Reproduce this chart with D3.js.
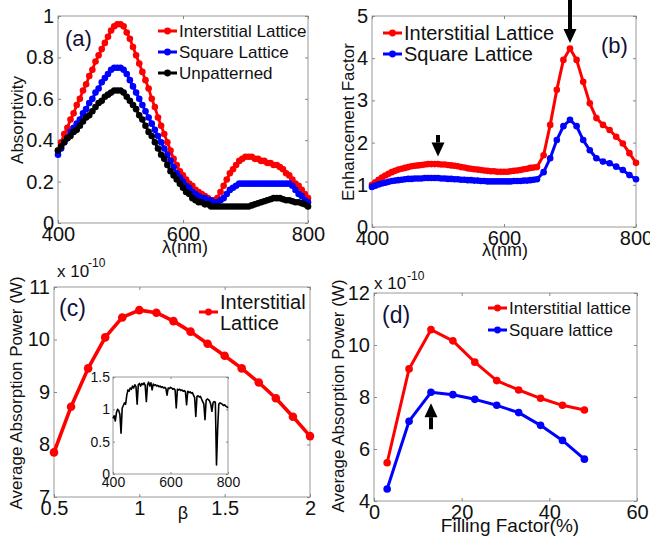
<!DOCTYPE html>
<html>
<head>
<meta charset="utf-8">
<script src="https://cdn.jsdelivr.net/npm/d3@7"></script>
<style>
body { margin: 0; background: #fff; }
svg { display: block; }
</style>
</head>
<body>
<svg id="fig" width="650" height="538"></svg>
<script>
// ---- (a) absorptivity vs wavelength ----
var wlA = [400,405,410,415,420,425,430,435,440,445,450,455,460,465,470,475,480,485,490,495,
	500,505,510,515,520,525,530,535,540,545,550,555,560,565,570,575,580,585,590,595,
	600,605,610,615,620,625,630,635,640,645,650,655,660,665,670,675,680,685,690,695,
	700,705,710,715,720,725,730,735,740,745,750,755,760,765,770,775,780,785,790,795,800];
var absInter = [.35,.39,.43,.46,.50,.53,.57,.60,.64,.67,.71,.74,.78,.81,.84,.87,.90,.93,.95,.96,
	.96,.95,.92,.89,.85,.81,.77,.73,.69,.65,.60,.56,.51,.47,.43,.39,.35,.31,.28,.25,
	.23,.21,.19,.18,.16,.15,.14,.13,.12,.11,.11,.12,.15,.18,.21,.24,.26,.28,.30,.31,
	.32,.32,.32,.31,.31,.30,.30,.29,.29,.28,.28,.27,.26,.24,.23,.21,.19,.18,.16,.14,.12];
var absSquare = [.33,.36,.39,.41,.44,.46,.48,.50,.53,.55,.58,.60,.63,.65,.68,.70,.72,.74,.75,.75,
	.75,.74,.72,.69,.66,.63,.60,.57,.54,.51,.48,.45,.42,.39,.36,.33,.30,.27,.24,.22,
	.20,.18,.17,.15,.14,.13,.12,.12,.11,.11,.10,.10,.11,.12,.14,.16,.17,.18,.19,.19,
	.19,.19,.19,.19,.19,.19,.19,.19,.19,.19,.19,.19,.19,.19,.19,.18,.16,.14,.13,.11,.10];
var absFlat = [.35,.37,.39,.41,.42,.44,.45,.47,.49,.51,.52,.54,.56,.58,.59,.61,.62,.63,.64,.64,
	.64,.63,.61,.59,.57,.55,.52,.50,.47,.44,.42,.39,.36,.33,.31,.28,.25,.23,.21,.19,
	.17,.15,.14,.12,.11,.10,.10,.09,.09,.08,.08,.08,.08,.08,.08,.08,.08,.08,.08,.08,
	.08,.08,.085,.09,.095,.10,.105,.11,.115,.12,.12,.12,.115,.11,.11,.105,.10,.10,.095,.09,.08];

// ---- (b) enhancement factor ----
var wlB = [400,405,410,415,420,425,430,435,440,445,450,455,460,465,470,475,480,485,490,495,
	500,505,510,515,520,525,530,535,540,545,550,555,560,565,570,575,580,585,590,595,
	600,605,610,615,620,625,630,635,640,645,650,
	660,670,680,690,700,710,720,730,740,750,760,770,780,790,800];
var enhInter = [1.00,1.06,1.12,1.17,1.22,1.26,1.30,1.33,1.36,1.38,1.40,1.42,1.44,1.45,1.46,1.47,1.48,1.49,1.49,1.49,
	1.49,1.48,1.48,1.47,1.46,1.45,1.44,1.42,1.41,1.39,1.38,1.37,1.36,1.35,1.34,1.33,1.32,1.32,1.31,1.31,
	1.31,1.31,1.32,1.33,1.34,1.35,1.37,1.38,1.40,1.41,1.42,
	1.70,2.42,3.25,3.96,4.23,3.96,3.44,2.93,2.58,2.42,2.30,2.14,1.98,1.75,1.52];
var enhSquare = [0.95,0.98,1.01,1.03,1.05,1.07,1.09,1.10,1.11,1.12,1.13,1.14,1.14,1.15,1.15,1.15,1.16,1.16,1.16,1.16,
	1.16,1.15,1.15,1.14,1.14,1.13,1.13,1.12,1.12,1.11,1.11,1.10,1.10,1.09,1.09,1.08,1.08,1.08,1.08,1.08,
	1.08,1.08,1.08,1.09,1.09,1.09,1.10,1.10,1.11,1.12,1.13,
	1.30,1.63,2.06,2.39,2.54,2.39,2.06,1.82,1.63,1.55,1.51,1.43,1.35,1.23,1.13];

// ---- (c) power vs beta (x 1e-10 W) ----
var beta = [0.5,0.6,0.7,0.8,0.9,1.0,1.1,1.2,1.3,1.4,1.5,1.6,1.7,1.8,1.9,2.0];
var powerBeta = [7.85,8.72,9.45,10.04,10.42,10.56,10.51,10.35,10.15,9.92,9.69,9.45,9.18,8.88,8.53,8.16];

// inset: solar spectrum
var specWl = [400,404,408,412,416,420,424,428,432,436,440,444,448,452,456,460,464,468,472,476,
	480,484,488,492,496,500,504,508,512,516,520,524,528,532,536,540,544,548,552,556,
	560,564,568,572,576,580,584,588,592,596,600,604,608,612,616,620,624,628,632,636,
	640,644,648,652,656,660,664,668,672,676,680,684,688,692,696,700,704,708,712,716,
	720,724,728,732,736,740,744,748,752,756,760,764,768,772,776,780,784,788,792,796,800];
var specVal = [0.86,0.90,0.82,0.95,1.00,0.98,0.92,0.63,1.02,1.06,1.10,1.08,1.22,1.30,1.28,1.33,1.31,1.36,1.33,1.38,
	1.35,1.08,1.38,1.40,1.36,1.40,1.38,1.41,1.37,1.12,1.38,1.42,1.36,1.41,1.30,1.39,1.37,1.38,1.36,1.37,
	1.35,1.36,1.34,1.35,1.33,1.34,1.32,1.22,1.33,1.32,1.34,1.33,1.31,1.32,1.30,1.02,1.31,1.30,1.31,1.29,
	1.30,1.28,1.29,1.27,1.07,1.28,1.26,1.27,1.25,1.26,1.22,1.18,0.89,1.20,1.21,1.19,1.20,1.16,1.12,1.08,
	0.84,1.14,1.16,1.15,1.13,1.08,0.97,1.10,1.12,1.11,0.14,0.70,1.08,1.10,1.09,1.08,1.06,1.07,1.05,1.04,1.02];

// ---- (d) power vs filling factor (x 1e-10 W) ----
var fillFactor = [3,8,13,18,23,28,33,38,43,48];
var powerInter = [5.47,9.08,10.59,10.16,9.34,8.63,8.27,7.95,7.68,7.50];
var powerSquare = [4.46,7.07,8.18,8.09,7.91,7.68,7.40,6.91,6.33,5.61];

var FONT = "Arial, 'Liberation Sans', sans-serif";
var svg = d3.select("#fig");

function zip(xs, ys) {
	return xs.map(function(v, i) { return [v, ys[i]]; });
}

function makePanel(p) {
	var x = d3.scaleLinear().domain(p.xDomain).range([p.left, p.right]);
	var y = d3.scaleLinear().domain(p.yDomain).range([p.bottom, p.top]);
	var g = svg.append("g");
	var fs = p.tickFont || 20;
	var tl = p.tickLen || 3;

	g.append("rect")
		.attr("x", p.left).attr("y", p.top)
		.attr("width", p.right - p.left).attr("height", p.bottom - p.top)
		.attr("fill", "#fff").attr("stroke", "#999").attr("stroke-width", 1);

	// MATLAB style: inward ticks on all four sides, labels only bottom/left
	var axes = [
		[d3.axisBottom(x).tickValues(p.xTicks), "translate(0," + p.bottom + ")", true],
		[d3.axisLeft(y).tickValues(p.yTicks), "translate(" + p.left + ",0)", true],
		[d3.axisTop(x).tickValues(p.xTicks), "translate(0," + p.top + ")", false],
		[d3.axisRight(y).tickValues(p.yTicks), "translate(" + p.right + ",0)", false]
	];
	axes.forEach(function(a) {
		var ax = a[0].tickSize(-tl).tickSizeOuter(0).tickPadding(p.tickPad || 4)
			.tickFormat(a[2] ? d3.format("") : "");
		var sel = g.append("g").attr("transform", a[1]).call(ax)
			.attr("font-family", FONT).attr("font-size", fs);
		sel.select(".domain").remove();
		sel.selectAll("line").attr("stroke", "#888");
		sel.selectAll("text").attr("fill", "#111");
	});
	return {x: x, y: y, g: g};
}

function drawSeries(P, xs, ys, color, r, w) {
	var pts = zip(xs, ys);
	var line = d3.line().x(function(d) { return P.x(d[0]); }).y(function(d) { return P.y(d[1]); });
	P.g.append("path").datum(pts)
		.attr("d", line).attr("fill", "none")
		.attr("stroke", color).attr("stroke-width", w).attr("stroke-linejoin", "round");
	if (r > 0) {
		P.g.selectAll(null).data(pts).enter().append("circle")
			.attr("cx", function(d) { return P.x(d[0]); })
			.attr("cy", function(d) { return P.y(d[1]); })
			.attr("r", r).attr("fill", color);
	}
}

// items: [lines of text, colour]; textShift moves the text block up/down
function legend(items, x0, y0, dy, fs, textShift) {
	textShift = textShift || 0;
	items.forEach(function(it, i) {
		var yy = y0 + i * dy;
		svg.append("line").attr("x1", x0).attr("x2", x0 + 19).attr("y1", yy).attr("y2", yy)
			.attr("stroke", it[1]).attr("stroke-width", 3);
		svg.append("circle").attr("cx", x0 + 9.5).attr("cy", yy).attr("r", 3.4).attr("fill", it[1]);
		it[0].forEach(function(t, j) {
			svg.append("text").attr("x", x0 + 21).attr("y", yy + textShift + j * 21).attr("dy", "0.36em")
				.attr("font-family", FONT).attr("font-size", fs).attr("fill", "#111").text(t);
		});
	});
}

function label(txt, x, y, fs, opts) {
	opts = opts || {};
	var t = svg.append("text").attr("font-family", FONT).attr("font-size", fs)
		.attr("fill", opts.fill || "#111").attr("text-anchor", opts.anchor || "start").text(txt);
	if (opts.rotate) {
		t.attr("transform", "translate(" + x + "," + y + ") rotate(-90)");
	} else {
		t.attr("x", x).attr("y", y);
	}
	return t;
}

// arrow: points to yTip from yTail (data coords)
function arrow(P, xv, yTip, yTail) {
	var xp = P.x(xv), ty = P.y(yTip), ay = P.y(yTail);
	var dir = ay < ty ? 1 : -1; // 1 = pointing down
	var head = 14, hw = 6.5;
	var base = ty - dir * head;
	svg.append("line").attr("x1", xp).attr("x2", xp).attr("y1", ay).attr("y2", base)
		.attr("stroke", "#000").attr("stroke-width", 4);
	svg.append("path")
		.attr("d", "M" + (xp - hw) + "," + base + "L" + (xp + hw) + "," + base + "L" + xp + "," + ty + "Z")
		.attr("fill", "#000");
}

// ---------- panel (a) ----------
var PA = makePanel({left: 58, right: 308, top: 16, bottom: 223,
	xDomain: [400, 800], yDomain: [0, 1],
	xTicks: [400, 600, 800], yTicks: [0, 0.2, 0.4, 0.6, 0.8, 1]});
drawSeries(PA, wlA, absInter, "#ff0000", 3.3, 2.8);
drawSeries(PA, wlA, absSquare, "#0000ff", 3.3, 2.8);
drawSeries(PA, wlA, absFlat, "#000000", 3.3, 2.8);
legend([[["Interstitial Lattice"], "#ff0000"], [["Square Lattice"], "#0000ff"], [["Unpatterned"], "#000"]],
	158, 31, 21, 17);
label("(a)", 65, 46, 22, {fill: "#10103a"});
label("Absorptivity", 23, 120, 17, {rotate: true, anchor: "middle"});
label("λ(nm)", 185, 253, 18, {anchor: "middle"});

// ---------- panel (b) ----------
var PB = makePanel({left: 372, right: 636, top: 16, bottom: 227,
	xDomain: [400, 800], yDomain: [0, 5],
	xTicks: [400, 600, 800], yTicks: [0, 1, 2, 3, 4, 5]});
drawSeries(PB, wlB, enhInter, "#ff0000", 3.3, 3);
drawSeries(PB, wlB, enhSquare, "#0000ff", 3.3, 3);
legend([[["Interstitial Lattice"], "#ff0000"], [["Square Lattice"], "#0000ff"]], 383, 33, 21, 20);
label("(b)", 601, 53, 22, {fill: "#10103a"});
label("Enhancement Factor", 354, 122, 17, {rotate: true, anchor: "middle"});
label("λ(nm)", 505, 256, 18, {anchor: "middle"});
arrow(PB, 500, 1.67, 2.18);
arrow(PB, 700, 4.36, 5.4);

// ---------- panel (c) ----------
var PC = makePanel({left: 54, right: 310, top: 287, bottom: 497,
	xDomain: [0.5, 2], yDomain: [7, 11],
	xTicks: [0.5, 1, 1.5, 2], yTicks: [7, 8, 9, 10, 11]});
drawSeries(PC, beta, powerBeta, "#ff0000", 4.3, 3.6);
legend([[["Interstitial", "Lattice"], "#ff0000"]], 199, 312, 21, 20, -10);
label("(c)", 59, 316, 23, {fill: "#10103a"});
label("Average Absorption Power (W)", 22, 393, 17, {rotate: true, anchor: "middle"});
label("β", 183, 519, 18, {anchor: "middle"});
label("x 10", 57, 277, 17);
label("-10", 88, 267, 12);

// inset
var PI = makePanel({left: 113, right: 228, top: 377, bottom: 474,
	xDomain: [400, 800], yDomain: [0, 1.5],
	xTicks: [400, 600, 800], yTicks: [0, 0.5, 1, 1.5], tickFont: 14, tickLen: 2, tickPad: 3});
drawSeries(PI, specWl, specVal, "#000", 0, 1.6);

// ---------- panel (d) ----------
var PD = makePanel({left: 374, right: 637, top: 293, bottom: 501,
	xDomain: [0, 60], yDomain: [4, 12],
	xTicks: [0, 20, 40, 60], yTicks: [4, 6, 8, 10, 12]});
drawSeries(PD, fillFactor, powerInter, "#ff0000", 3.8, 3);
drawSeries(PD, fillFactor, powerSquare, "#0000ff", 3.8, 3);
legend([[["Interstitial lattice"], "#ff0000"], [["Square lattice"], "#0000ff"]], 488, 308, 22, 17);
label("(d)", 382, 323, 23, {fill: "#10103a"});
label("Average Absorption Power (W)", 344, 396, 17, {rotate: true, anchor: "middle"});
label("Filling Factor(%)", 510, 532, 19, {anchor: "middle"});
label("x 10", 374, 289, 17);
label("-10", 407, 280, 12);
arrow(PD, 13, 7.76, 6.76);
</script>
</body>
</html>
